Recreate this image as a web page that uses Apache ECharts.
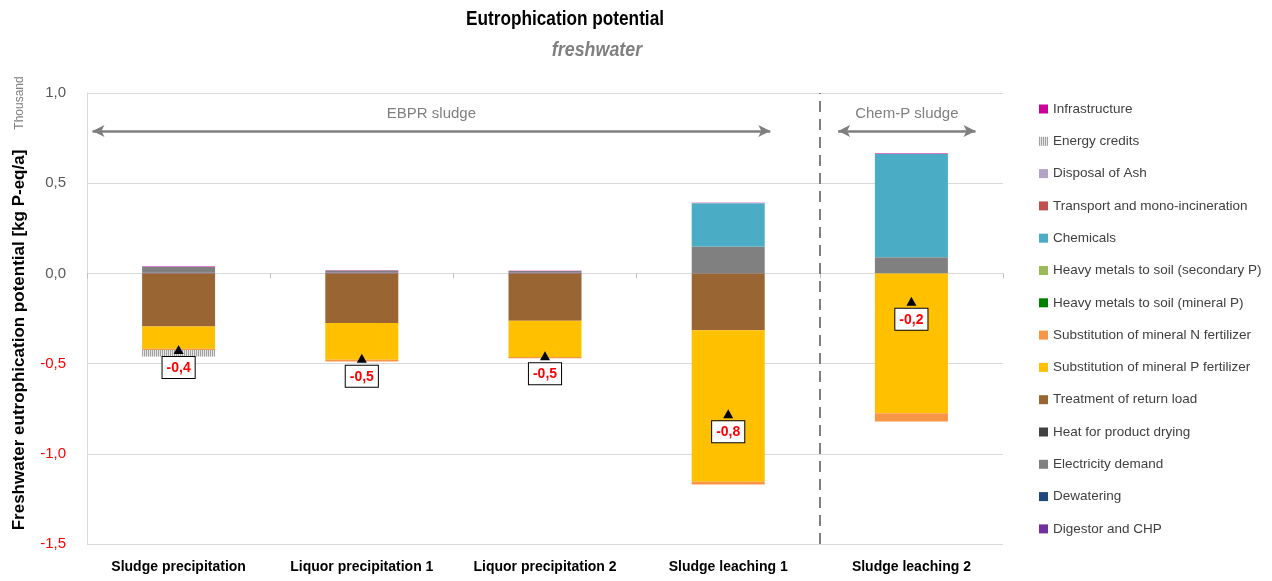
<!DOCTYPE html>
<html>
<head>
    <meta charset="utf-8">
    <title>Eutrophication potential</title>
    <script src="https://cdn.jsdelivr.net/npm/echarts@6/dist/echarts.min.js"></script>
    <style>
        body { margin: 0; background: #fff; }
    </style>
</head>
<body>

<div id="main" style="width: 1272px;height:581px;"></div>

<script type="text/javascript">

    // categories along the x axis
    var categories = ['Sludge precipitation', 'Liquor precipitation 1', 'Liquor precipitation 2', 'Sludge leaching 1', 'Sludge leaching 2'];

    // contributions, thousand kg P-eq/a (stack order: bottom first)
    var digestorCHP    = [0.002, 0.003, 0.003, 0, 0];
    var dewatering     = [0.001, 0.001, 0.001, 0.001, 0.001];
    var electricity    = [0.033, 0.012, 0.009, 0.148, 0.088];
    var heatDrying     = [0, 0, 0, 0, 0];
    var returnLoad     = [-0.294, -0.275, -0.263, -0.315, 0];
    var substP         = [-0.123, -0.204, -0.200, -0.840, -0.775];
    var substN         = [-0.008, -0.010, -0.008, -0.015, -0.046];
    var hmMineral      = [0, 0, 0, 0, 0];
    var hmSecondary    = [0, 0, 0, 0, 0];
    var chemicals      = [0, 0, 0, 0.240, 0.573];
    var transport      = [0, 0, 0, 0, 0];
    var disposalAsh    = [0, 0, 0, 0.001, 0.001];
    var energyCredits  = [-0.035, 0, 0, 0, 0];
    var infrastructure = [0.002, 0.002, 0.002, 0.002, 0.003];

    // y axis ticks
    var yTicks = [-1.5, -1.0, -0.5, 0.0, 0.5, 1.0];

    var stackList = [
        {name: 'Digestor and CHP', data: digestorCHP, color: '#7030A0'},
        {name: 'Dewatering', data: dewatering, color: '#1F497D'},
        {name: 'Electricity demand', data: electricity, color: '#808080'},
        {name: 'Heat for product drying', data: heatDrying, color: '#404040'},
        {name: 'Treatment of return load', data: returnLoad, color: '#996633'},
        {name: 'Substitution of mineral P fertilizer', data: substP, color: '#FFC000'},
        {name: 'Substitution of mineral N fertilizer', data: substN, color: '#F79646'},
        {name: 'Heavy metals to soil (mineral P)', data: hmMineral, color: '#008000'},
        {name: 'Heavy metals to soil (secondary P)', data: hmSecondary, color: '#9BBB59'},
        {name: 'Chemicals', data: chemicals, color: '#4BACC6'},
        {name: 'Transport and mono-incineration', data: transport, color: '#C0504D'},
        {name: 'Disposal of Ash', data: disposalAsh, color: '#B3A2C7'},
        {name: 'Energy credits', data: energyCredits, color: '#E6E6E6', hatch: true},
        {name: 'Infrastructure', data: infrastructure, color: '#CC0099'}
    ];

    // net result per scenario = sum of all contributions
    var totals = categories.map(function (c, i) {
        var s = 0;
        for (var k = 0; k < stackList.length; k++) s += stackList[k].data[i];
        return Math.round(s * 1000) / 1000;
    });

    var font = '"Liberation Sans", Arial, sans-serif';
    var myChart = echarts.init(document.getElementById('main'));

    var series = [];
    for (var i = 0; i < stackList.length; i++) {
        var it = stackList[i];
        var itemStyle = {color: it.color};
        if (it.hatch) {
            itemStyle.decal = {
                symbol: 'rect',
                symbolSize: 1,
                color: '#A0A0A0',
                dashArrayX: [1, 1],
                dashArrayY: [1, 0],
                rotation: 0
            };
        }
        series.push({
            name: it.name,
            type: 'bar',
            stack: 'total',
            barWidth: 73,
            xAxisIndex: 0,
            itemStyle: itemStyle,
            emphasis: {disabled: true},
            data: it.data
        });
    }

    // net total markers with value box
    series.push({
        name: 'Total',
        type: 'scatter',
        xAxisIndex: 0,
        symbol: 'triangle',
        symbolSize: [10, 9],
        itemStyle: {color: '#000', opacity: 1},
        z: 10,
        label: {
            show: true,
            position: 'bottom',
            distance: 3,
            formatter: function (p) { return p.value.toFixed(1).replace('.', ','); },
            color: '#FF0000',
            fontWeight: 'bold',
            fontSize: 14,
            fontFamily: font,
            backgroundColor: '#fff',
            borderColor: '#000',
            borderWidth: 1,
            padding: [4, 4, 3, 4]
        },
        data: totals
    });

    // group arrows and divider on a hidden value axis
    series.push({
        name: 'groups',
        type: 'line',
        xAxisIndex: 2,
        data: [],
        silent: true,
        markLine: {
            silent: true,
            animation: false,
            symbol: ['arrow', 'arrow'],
            symbolSize: [9, 12],
            lineStyle: {color: '#7F7F7F', width: 2.5, type: 'solid'},
            label: {
                show: true,
                position: 'insideMiddleTop',
                distance: 10,
                color: '#7F7F7F',
                fontSize: 15,
                fontFamily: font
            },
            data: [
                [{coord: [0.03, 0.79], label: {formatter: 'EBPR sludge'}}, {coord: [3.73, 0.79]}],
                [{coord: [4.10, 0.79], label: {formatter: 'Chem-P sludge'}}, {coord: [4.85, 0.79]}],
                [{coord: [4.0, -1.5], symbol: 'none', label: {show: false},
                  lineStyle: {type: [11, 7], width: 2}},
                 {coord: [4.0, 1.0], symbol: 'none'}]
            ]
        }
    });

    myChart.setOption({
        animation: false,
        graphic: [
            {type: 'text', x: 565, y: 19, scaleX: 0.82, style: {text: 'Eutrophication potential', textAlign: 'center', textVerticalAlign: 'middle',
                font: 'bold 21px ' + font, fill: '#000'}},
            {type: 'text', x: 597, y: 50, scaleX: 0.85, style: {text: 'freshwater', textAlign: 'center', textVerticalAlign: 'middle',
                font: 'italic bold 21px ' + font, fill: '#7F7F7F'}},
            {type: 'text', x: 20, y: 103, rotation: Math.PI / 2, style: {text: 'Thousand', textAlign: 'center', textVerticalAlign: 'middle',
                font: '12px ' + font, fill: '#7F7F7F'}},
            {type: 'text', x: 19, y: 340, rotation: Math.PI / 2, style: {text: 'Freshwater eutrophication potential [kg P-eq/a]',
                textAlign: 'center', textVerticalAlign: 'middle', font: 'bold 17px ' + font, fill: '#000'}}
        ],
        legend: {
            orient: 'vertical',
            left: 1034,
            top: 96,
            itemWidth: 9,
            itemHeight: 9,
            itemGap: 16.3,
            icon: 'rect',
            selectedMode: false,
            textStyle: {fontSize: 13.5, fontFamily: font, color: '#404040', lineHeight: 16},
            data: stackList.map(function (s) { return s.name; }).reverse()
        },
        grid: {
            left: 87,
            right: 269,
            top: 93,
            bottom: 37
        },
        xAxis: [
            {
                type: 'category',
                data: categories,
                axisLine: {onZero: true, lineStyle: {color: '#D9D9D9'}},
                axisTick: {show: true, length: 5, lineStyle: {color: '#BFBFBF'}},
                axisLabel: {show: false}
            },
            {
                type: 'category',
                data: categories,
                position: 'bottom',
                axisLine: {show: false, onZero: false},
                axisTick: {show: false},
                axisLabel: {interval: 0, margin: 16, fontSize: 14, fontWeight: 'bold', fontFamily: font, color: '#000'}
            },
            {
                type: 'value',
                min: 0,
                max: 5,
                show: false
            }
        ],
        yAxis: {
            type: 'value',
            min: yTicks[0],
            max: yTicks[yTicks.length - 1],
            interval: 0.5,
            axisLine: {show: true, lineStyle: {color: '#D9D9D9'}},
            axisTick: {show: false},
            splitLine: {lineStyle: {color: '#D9D9D9'}},
            axisLabel: {
                margin: 21,
                fontSize: 15,
                fontFamily: font,
                formatter: function (v) { return v.toFixed(1).replace('.', ','); },
                color: function (v) { return v < 0 ? '#FF0000' : '#595959'; }
            }
        },
        series: series
    });

</script>
</body>
</html>
